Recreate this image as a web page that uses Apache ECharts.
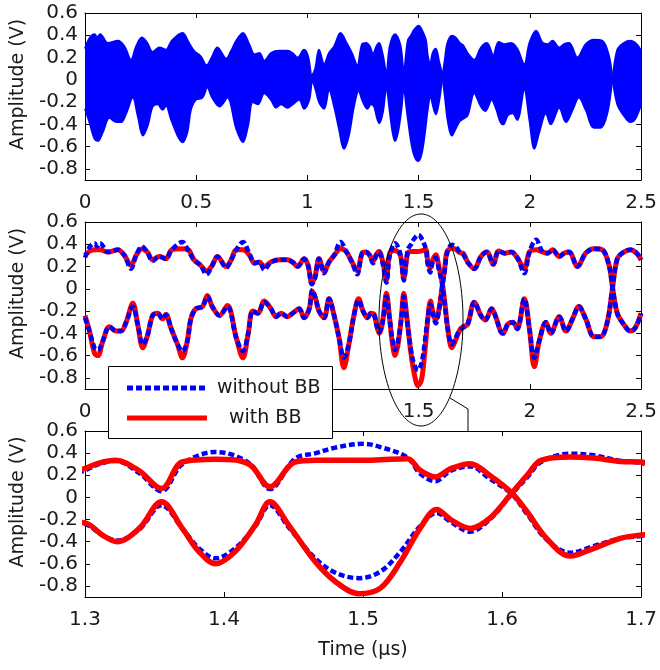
<!DOCTYPE html>
<html>
<head>
<meta charset="utf-8">
<script src="https://cdn.jsdelivr.net/npm/echarts@6/dist/echarts.min.js"></script>
<style>html,body{margin:0;background:#fff}#chart{width:660px;height:670px}</style>
</head>
<body>
<div id="chart"></div>
<script>
// curve A (upper at the start), times in us, amplitudes in V
var tA = [0, 0.022, 0.043, 0.055, 0.068, 0.103, 0.148, 0.177, 0.207, 0.23,
  0.256, 0.28, 0.304, 0.334, 0.364, 0.39, 0.438, 0.465, 0.49, 0.52,
  0.546, 0.572, 0.595, 0.635, 0.657, 0.68, 0.71, 0.74, 0.762, 0.784,
  0.806, 0.836, 0.874, 0.91, 0.933, 0.956, 0.985, 1.003, 1.02, 1.035,
  1.052, 1.075, 1.097, 1.12, 1.149, 1.176, 1.2, 1.224, 1.246, 1.264,
  1.28, 1.295, 1.31, 1.322, 1.339, 1.355, 1.37, 1.394, 1.418, 1.433,
  1.451, 1.466, 1.48, 1.5, 1.5125, 1.532, 1.541, 1.552, 1.563, 1.577,
  1.591, 1.607, 1.618, 1.632, 1.649, 1.666, 1.685, 1.7, 1.72, 1.75,
  1.78, 1.8, 1.828, 1.848, 1.868, 1.88, 1.9, 1.923, 1.943, 1.975,
  1.998, 2.02, 2.042, 2.072, 2.094, 2.132, 2.162, 2.192, 2.22, 2.251,
  2.288, 2.318, 2.348, 2.371, 2.393, 2.422, 2.452, 2.48, 2.5];
var redA = [0.30, 0.34, 0.35, 0.35, 0.35, 0.33, 0.35, 0.30, 0.21, 0.30,
  0.36, 0.33, 0.26, 0.29, 0.27, 0.35, 0.36, 0.35, 0.26, 0.21,
  0.16, 0.21, 0.29, 0.20, 0.26, 0.35, 0.35, 0.30, 0.23, 0.24,
  0.20, 0.24, 0.26, 0.26, 0.24, 0.20, 0.27, 0.21, 0.05, 0.12,
  0.27, 0.16, 0.24, 0.30, 0.36, 0.33, 0.24, 0.16, 0.32, 0.33,
  0.30, 0.25, 0.31, 0.335, 0.24, 0.08, 0.32, 0.345, 0.30, 0.096,
  0.32, 0.335, 0.335, 0.335, 0.34, 0.35, 0.245, 0.185, 0.26, 0.305,
  0.20, 0.04, -0.13, -0.37, -0.53, -0.46, -0.37, -0.34, -0.32, -0.12,
  -0.24, -0.28, -0.18, -0.26, -0.38, -0.40, -0.32, -0.30, -0.36, -0.09,
  -0.36, -0.70, -0.47, -0.30, -0.40, -0.25, -0.38, -0.27, -0.16, -0.27,
  -0.43, -0.43, -0.30, 0.00, 0.27, 0.33, 0.35, 0.32, 0.26];
var blueA = [0.28, 0.38, 0.41, 0.38, 0.41, 0.33, 0.35, 0.30, 0.18, 0.30,
  0.38, 0.33, 0.25, 0.29, 0.27, 0.35, 0.42, 0.34, 0.26, 0.21,
  0.13, 0.21, 0.29, 0.19, 0.26, 0.35, 0.42, 0.31, 0.23, 0.24,
  0.17, 0.24, 0.26, 0.26, 0.24, 0.20, 0.27, 0.21, 0.04, 0.10,
  0.27, 0.14, 0.24, 0.30, 0.42, 0.33, 0.24, 0.13, 0.32, 0.33,
  0.30, 0.23, 0.30, 0.33, 0.22, 0.055, 0.30, 0.41, 0.31, 0.075,
  0.35, 0.40, 0.45, 0.485, 0.455, 0.36, 0.215, 0.147, 0.24, 0.28,
  0.17, 0.03, -0.15, -0.38, -0.50, -0.44, -0.37, -0.35, -0.32, -0.12,
  -0.24, -0.28, -0.18, -0.26, -0.38, -0.40, -0.32, -0.30, -0.36, -0.09,
  -0.36, -0.62, -0.47, -0.30, -0.40, -0.25, -0.38, -0.27, -0.16, -0.27,
  -0.43, -0.43, -0.30, 0.00, 0.27, 0.33, 0.35, 0.32, 0.26];

// curve B (lower at the start)
var tB = [0, 0.02, 0.043, 0.058, 0.08, 0.11, 0.14, 0.162, 0.185, 0.215,
  0.237, 0.26, 0.282, 0.304, 0.326, 0.349, 0.364, 0.386, 0.416, 0.438,
  0.46, 0.476, 0.498, 0.528, 0.55, 0.572, 0.605, 0.64, 0.68, 0.71,
  0.733, 0.754, 0.777, 0.806, 0.836, 0.859, 0.881, 0.91, 0.933, 0.963,
  0.985, 1.008, 1.022, 1.037, 1.052, 1.075, 1.097, 1.12, 1.142, 1.164,
  1.186, 1.209, 1.23, 1.25, 1.27, 1.285, 1.3, 1.3125, 1.323, 1.339,
  1.355, 1.37, 1.382, 1.394, 1.408, 1.4225, 1.433, 1.4465, 1.4655, 1.48,
  1.497, 1.5125, 1.527, 1.541, 1.553, 1.563, 1.577, 1.591, 1.607, 1.618,
  1.628, 1.649, 1.666, 1.685, 1.7, 1.72, 1.75, 1.78, 1.807, 1.835,
  1.86, 1.886, 1.916, 1.943, 1.975, 1.998, 2.028, 2.058, 2.08, 2.102,
  2.132, 2.154, 2.176, 2.214, 2.251, 2.288, 2.326, 2.356, 2.371, 2.393,
  2.422, 2.452, 2.474, 2.5];
var redB = [-0.24, -0.38, -0.58, -0.60, -0.47, -0.34, -0.38, -0.38, -0.30, -0.13,
  -0.32, -0.53, -0.41, -0.24, -0.22, -0.27, -0.23, -0.35, -0.50, -0.62,
  -0.47, -0.27, -0.18, -0.16, -0.06, -0.16, -0.24, -0.15, -0.44, -0.62,
  -0.41, -0.20, -0.22, -0.11, -0.18, -0.25, -0.22, -0.25, -0.22, -0.18,
  -0.26, -0.18, -0.02, -0.09, -0.20, -0.26, -0.09, -0.24, -0.44, -0.71,
  -0.50, -0.24, -0.09, -0.20, -0.26, -0.22, -0.23, -0.34, -0.40, -0.28,
  -0.04, -0.28, -0.49, -0.60, -0.49, -0.25, -0.04, -0.25, -0.58, -0.76,
  -0.87, -0.82, -0.58, -0.28, -0.11, -0.20, -0.28, -0.19, 0.04, 0.20,
  0.335, 0.365, 0.355, 0.325, 0.32, 0.24, 0.18, 0.29, 0.33, 0.22,
  0.34, 0.32, 0.33, 0.28, 0.18, 0.33, 0.35, 0.33, 0.32, 0.35,
  0.29, 0.32, 0.33, 0.20, 0.32, 0.36, 0.35, 0.21, 0.02, -0.22,
  -0.32, -0.38, -0.35, -0.22];
var blueB = [-0.26, -0.38, -0.53, -0.55, -0.47, -0.34, -0.38, -0.38, -0.30, -0.16,
  -0.32, -0.50, -0.41, -0.24, -0.22, -0.27, -0.23, -0.35, -0.50, -0.56,
  -0.47, -0.27, -0.18, -0.16, -0.07, -0.16, -0.24, -0.16, -0.44, -0.56,
  -0.41, -0.20, -0.22, -0.12, -0.18, -0.25, -0.22, -0.25, -0.22, -0.18,
  -0.26, -0.18, -0.01, -0.09, -0.20, -0.26, -0.09, -0.24, -0.44, -0.62,
  -0.50, -0.24, -0.10, -0.20, -0.26, -0.22, -0.24, -0.34, -0.39, -0.29,
  -0.07, -0.28, -0.46, -0.55, -0.46, -0.26, -0.07, -0.27, -0.55, -0.68,
  -0.73, -0.67, -0.49, -0.26, -0.14, -0.22, -0.31, -0.20, 0.03, 0.18,
  0.32, 0.395, 0.38, 0.33, 0.31, 0.24, 0.18, 0.29, 0.33, 0.22,
  0.34, 0.32, 0.33, 0.28, 0.14, 0.33, 0.44, 0.33, 0.32, 0.35,
  0.29, 0.32, 0.33, 0.20, 0.32, 0.36, 0.35, 0.21, 0.02, -0.22,
  -0.32, -0.38, -0.35, -0.22];

var yTicks = [-0.8, -0.6, -0.4, -0.2, 0, 0.2, 0.4, 0.6];
var xTicksFull = [0, 0.5, 1, 1.5, 2, 2.5];
var xTicksZoom = [1.3, 1.4, 1.5, 1.6, 1.7];
var legendNames = ['without BB', 'with BB'];

var BLUE = '#0000ff', RED = '#ff0000', INK = '#1a1a1a';
var FONT = '"DejaVu Sans", Verdana, sans-serif';

function pairs(t, v) {
  return t.map(function (x, i) { return [x, v[i]]; });
}
function fmt(v) { return String(Math.round(v * 10) / 10); }

// box axes: labelled bottom/left, mirrored top/right with inner ticks
function xAxes(g, min, max, ticks, name) {
  var base = {
    type: 'value', gridIndex: g, min: min, max: max,
    axisLine: { show: true, onZero: false, lineStyle: { color: '#000', width: 1 } },
    axisTick: { show: true, inside: true, length: 5, customValues: ticks, lineStyle: { color: '#000' } },
    splitLine: { show: false }
  };
  var bottom = echarts.util.merge({
    position: 'bottom',
    axisLabel: { customValues: ticks, formatter: fmt, margin: 13, color: INK, fontSize: 20, fontFamily: FONT }
  }, base, true);
  if (name) {
    bottom.name = name;
    bottom.nameLocation = 'middle';
    bottom.nameGap = 44;
    bottom.nameTextStyle = { color: INK, fontSize: 19, fontFamily: FONT };
  }
  var top = echarts.util.merge({ position: 'top', axisLabel: { show: false } }, base, true);
  return [bottom, top];
}
function yAxes(g) {
  var base = {
    type: 'value', gridIndex: g, min: -0.9, max: 0.6,
    axisLine: { show: true, onZero: false, lineStyle: { color: '#000', width: 1 } },
    axisTick: { show: true, inside: true, length: 5, customValues: yTicks, lineStyle: { color: '#000' } },
    splitLine: { show: false }
  };
  var left = echarts.util.merge({
    position: 'left',
    name: 'Amplitude (V)', nameLocation: 'middle', nameGap: 57,
    nameTextStyle: { color: INK, fontSize: 19, fontFamily: FONT, padding: [0, 0, 0, 24] },
    axisLabel: { customValues: yTicks, formatter: fmt, margin: 7, color: INK, fontSize: 20, fontFamily: FONT }
  }, base, true);
  var right = echarts.util.merge({ position: 'right', axisLabel: { show: false } }, base, true);
  return [left, right];
}

function curve(ax, data, color, dashed, width, name) {
  return {
    type: 'line', name: name, xAxisIndex: ax, yAxisIndex: ax,
    data: data, smooth: 0.35, showSymbol: false, symbol: 'none',
    lineStyle: { color: color, width: width, type: dashed ? [6, 3] : 'solid' },
    animation: false
  };
}
function band(data, withZero) {
  var s = {
    type: 'line', xAxisIndex: 0, yAxisIndex: 0, data: data, smooth: 0.35,
    showSymbol: false, symbol: 'none',
    lineStyle: { color: BLUE, width: 2 },
    areaStyle: { color: BLUE, opacity: 1, origin: 'auto' },
    animation: false
  };
  if (withZero) {
    // closes the hairline seam where the two filled halves meet
    s.markLine = { silent: true, symbol: 'none', label: { show: false },
      lineStyle: { color: BLUE, width: 2, type: 'solid' }, data: [{ yAxis: 0 }] };
  }
  return s;
}

var chart = echarts.init(document.getElementById('chart'), null, { renderer: 'canvas' });

var option = {
  backgroundColor: '#fff',
  animation: false,
  grid: [
    { left: 85, right: 16, top: 13, height: 167 },
    { left: 85, right: 16, top: 222, height: 167 },
    { left: 85, right: 16, top: 431, height: 166 }
  ],
  xAxis: [].concat(
    xAxes(0, 0, 2.5, xTicksFull),
    xAxes(1, 0, 2.5, xTicksFull),
    xAxes(2, 1.3, 1.7, xTicksZoom, 'Time (\u03bcs)')
  ),
  yAxis: [].concat(yAxes(0), yAxes(1), yAxes(2)),
  series: [
    // top: signal without BB, filled between its envelopes
    band(pairs(tA, blueA), false),
    band(pairs(tB, blueB), true),
    // middle: red under blue dashed
    curve(2, pairs(tA, redA), RED, false, 5, legendNames[1]),
    curve(2, pairs(tB, redB), RED, false, 5, legendNames[1]),
    curve(2, pairs(tA, blueA), BLUE, true, 4.5, legendNames[0]),
    curve(2, pairs(tB, blueB), BLUE, true, 4.5, legendNames[0]),
    // bottom zoom: blue dashed under red
    curve(4, pairs(tA, blueA), BLUE, true, 4.5, legendNames[0]),
    curve(4, pairs(tB, blueB), BLUE, true, 4.5, legendNames[0]),
    curve(4, pairs(tA, redA), RED, false, 5.5, legendNames[1]),
    curve(4, pairs(tB, redB), RED, false, 5.5, legendNames[1])
  ],
  graphic: {
    elements: [
      // zoom marker
      { type: 'ellipse', z: 100, shape: { cx: 421, cy: 320, rx: 42, ry: 106 },
        style: { fill: 'none', stroke: '#000', lineWidth: 1 } },
      { type: 'polyline', z: 100, shape: { points: [[450, 398], [468, 409], [468, 431]] },
        style: { fill: 'none', stroke: '#000', lineWidth: 1 } },
      // legend box
      { type: 'rect', z: 100, shape: { x: 108.5, y: 366.5, width: 224, height: 72 },
        style: { fill: '#fff', stroke: '#000', lineWidth: 1 } },
      { type: 'line', z: 101, shape: { x1: 127, y1: 388, x2: 207, y2: 388 },
        style: { stroke: BLUE, lineWidth: 5, lineDash: [6, 3] } },
      { type: 'text', z: 101, style: { text: legendNames[0], x: 217, y: 388, verticalAlign: 'middle',
        font: '19px ' + FONT, fill: INK } },
      { type: 'line', z: 101, shape: { x1: 127, y1: 418, x2: 207, y2: 418 },
        style: { stroke: RED, lineWidth: 5 } },
      { type: 'text', z: 101, style: { text: legendNames[1], x: 229, y: 418, verticalAlign: 'middle',
        font: '19px ' + FONT, fill: INK } }
    ]
  }
};

chart.setOption(option);
</script>
</body>
</html>
